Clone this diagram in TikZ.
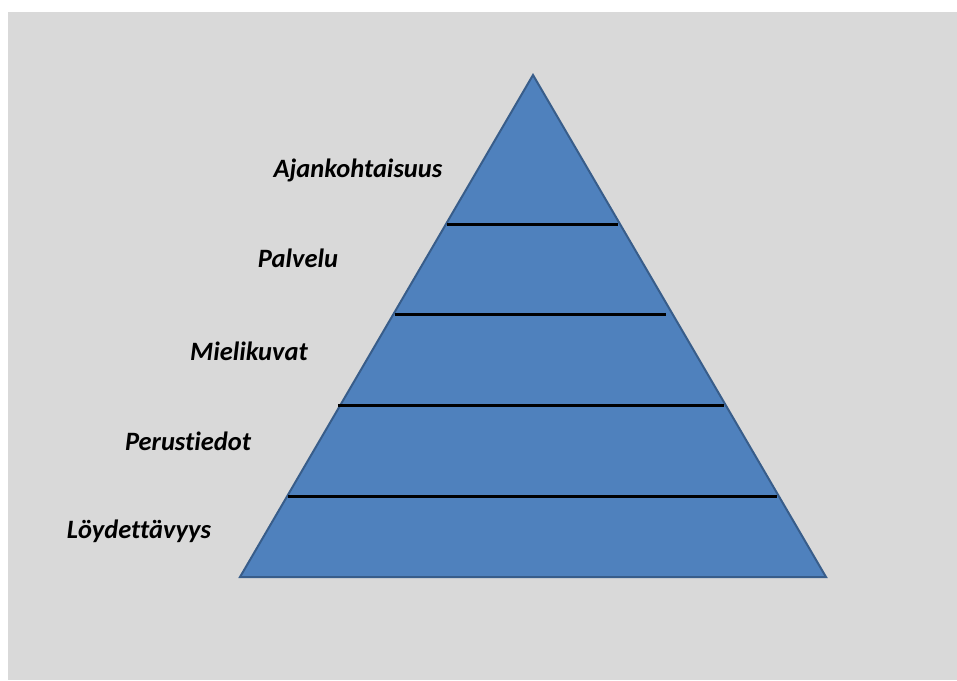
\documentclass[tikz,border=0pt]{standalone}
\usepackage{fontspec}
\setmainfont{Carlito}[Ligatures={NoCommon}]
\usepackage{xcolor}
\usepackage{tikz}
\usetikzlibrary{positioning, calc}
\definecolor{slidegray}{HTML}{D9D9D9}
\definecolor{pyrfill}{HTML}{4F81BD}
\definecolor{pyredge}{HTML}{385D8A}

\begin{document}
\begin{tikzpicture}[
    x=1pt, y=-1pt,
    pyramid/.style={fill=pyrfill, draw=pyredge, line width=2pt, line join=miter},
    divider/.style={draw=black, line width=3pt},
    tier/.style={anchor=base, inner sep=0pt, font=\fontsize{26.5}{30}\selectfont\bfseries\itshape, text=black}
]
    \useasboundingbox (0,0) rectangle (957,680);
    \fill[white] (0,0) rectangle (957,680);
    \fill[slidegray] (8,12) rectangle (957,680);

    % pyramid
    \coordinate (apex) at (533,75);
    \coordinate (baseL) at (240,577);
    \coordinate (baseR) at (826,577);
    \path[pyramid] (apex) -- (baseR) -- (baseL) -- cycle;

    % tier dividers
    \coordinate (d1L) at (447,224); \coordinate (d1R) at (618,224);
    \coordinate (d2L) at (395,314); \coordinate (d2R) at (666,314);
    \coordinate (d3L) at (338,405); \coordinate (d3R) at (724,405);
    \coordinate (d4L) at (288,496); \coordinate (d4R) at (777,496);
    \draw[divider] (d1L) -- (d1R);
    \draw[divider] (d2L) -- (d2R);
    \draw[divider] (d3L) -- (d3R);
    \draw[divider] (d4L) -- (d4R);

    % labels
    \node[tier] (ajankohtaisuus) at (358,177) {Ajankohtaisuus};
    \node[tier] (palvelu) at (298,267) {Palvelu};
    \node[tier] (mielikuvat) at (249,360) {Mielikuvat};
    \node[tier] (perustiedot) at (188,450) {Perustiedot};
    \node[tier] (loydettavyys) at (139,538) {Löydettävyys};
\end{tikzpicture}
\end{document}
